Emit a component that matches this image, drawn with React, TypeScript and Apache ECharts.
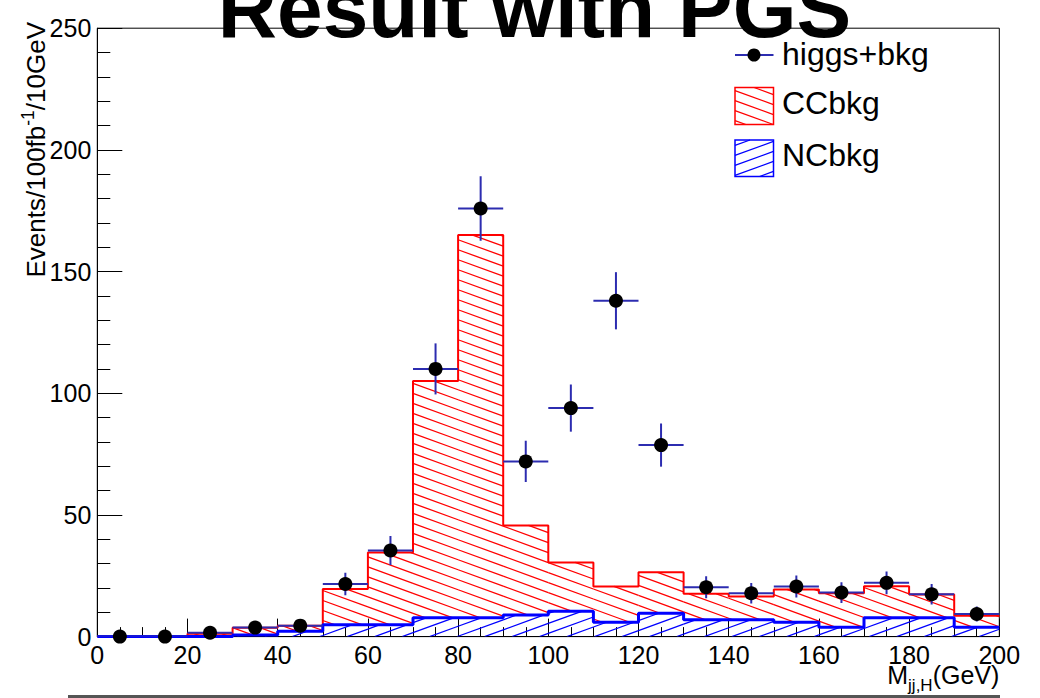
import React, { useEffect, useRef } from "react";
import * as echarts from "echarts";

// ---------- data ----------
const binLow = [0, 10, 20, 30, 40, 50, 60, 70, 80, 90, 100, 110, 120, 130, 140, 150, 160, 170, 180, 190];
const binWidth = 10;
// higgs + background (points, errors = sqrt(N))
const higgsBkg = [0, 0, 1.6, 3.7, 4.5, 21.6, 35.4, 110, 175.9, 72, 93.9, 138, 78.7, 20.3, 17.8, 20.6, 18.1, 22.1, 17.4, 9.3];
// CC background stacked on top of NC background (top of red histogram)
const ccStack = [0, 0, 1.2, 3.6, 4.5, 19.6, 34.6, 105, 165, 45.7, 30.5, 20.6, 26.4, 17.6, 16.5, 19.4, 17.8, 20.7, 17.3, 8.6];
// NC background
const ncBkg = [0, 0, 0, 0.7, 2.2, 4.9, 4.9, 7.7, 7.7, 8.9, 10.4, 5.9, 9.6, 6.9, 6.9, 5.9, 3.8, 7.7, 7.7, 3.8];

const xTicks = { min: 0, max: 200, interval: 20 };
const yTicks = { min: 0, max: 250, interval: 50 };

const FONT = '"Liberation Sans", Arial, Helvetica, sans-serif';
const RED = "#ff0000";
const BLUE = "#0000ff";
const ERR = "#2c2cb0";
const HATCH_SLOPE = 0.364;
const HATCH_SPACING = 10;

type Seg = { x1: number; y1: number; x2: number; y2: number };

function hatch(x0: number, y0: number, x1: number, y1: number, slope: number, spacing: number, phase: number): Seg[] {
  const segs: Seg[] = [];
  if (x1 - x0 < 0.5 || y1 - y0 < 0.5) return segs;
  const cs = [y0 - slope * x0, y0 - slope * x1, y1 - slope * x0, y1 - slope * x1];
  const cMin = Math.min(...cs), cMax = Math.max(...cs);
  const kStart = Math.ceil((cMin - phase) / spacing);
  const kEnd = Math.floor((cMax - phase) / spacing);
  for (let k = kStart; k <= kEnd; k++) {
    const c = phase + k * spacing;
    let xa = (y0 - c) / slope, xb = (y1 - c) / slope;
    if (xa > xb) { const t = xa; xa = xb; xb = t; }
    const lo = Math.max(x0, xa), hi = Math.min(x1, xb);
    if (hi - lo > 0.2) segs.push({ x1: lo, y1: slope * lo + c, x2: hi, y2: slope * hi + c });
  }
  return segs;
}

let measureCtx: CanvasRenderingContext2D | null = null;
function tw(text: string, size: number, weight = "normal"): number {
  if (!measureCtx) measureCtx = document.createElement("canvas").getContext("2d");
  measureCtx!.font = `${weight} ${size}px "Liberation Sans"`;
  return measureCtx!.measureText(text).width;
}

function hatchRenderer(color: string, slope: number) {
  return (params: any, api: any) => {
    const xl = api.value(0), xr = api.value(1), b = api.value(2), t = api.value(3);
    if (!(t > b)) return { type: "group", children: [] };
    const p0 = api.coord([xl, b]);
    const p1 = api.coord([xr, t]);
    const segs = hatch(p0[0], p1[1], p1[0], p0[1], slope, HATCH_SPACING, 3);
    return {
      type: "group",
      children: segs.map((s) => ({
        type: "line",
        shape: s,
        style: { stroke: color, lineWidth: 1.3 },
      })),
    };
  };
}

function errRenderer(params: any, api: any) {
  const xc = api.value(0), v = api.value(1), e = api.value(2), hw = api.value(3);
  const pl = api.coord([xc - hw, v]);
  const pr = api.coord([xc + hw, v]);
  const pt = api.coord([xc, v + e]);
  const pb = api.coord([xc, v - e]);
  const style = { stroke: ERR, lineWidth: 2 };
  return {
    type: "group",
    children: [
      { type: "line", shape: { x1: pl[0], y1: pl[1], x2: pr[0], y2: pr[1] }, style },
      { type: "line", shape: { x1: pt[0], y1: pt[1], x2: pb[0], y2: pb[1] }, style },
    ],
  };
}

function stepData(vals: number[]) {
  const d = binLow.map((x, i) => [x, vals[i]]);
  d.push([binLow[binLow.length - 1] + binWidth, vals[vals.length - 1]]);
  return d;
}

export default function App() {
  const ref = useRef<HTMLDivElement>(null);

  useEffect(() => {
    if (!ref.current) return;
    const chart = echarts.init(ref.current, null, { renderer: "svg" });

    const gridLeft = 97.3, gridRight = 999.3, gridTop = 28.2, gridBottom = 636.6;

    // y-axis title (rotated, right-aligned at top)
    const yfs = 26, ysfs = 17.5;
    const yp1 = "Events/100fb", yp2 = "-1", yp3 = "/10GeV";
    const w1 = tw(yp1, yfs), w2 = tw(yp2, ysfs), w3 = tw(yp3, yfs);
    const yL = w1 + w2 + w3;
    const yBase = 45;
    const yTitle = {
      type: "group",
      x: yBase,
      y: 22 + yL,
      rotation: Math.PI / 2,
      children: [
        { type: "text", x: 0, y: -0.3465 * yfs, style: { text: yp1, font: `${yfs}px ${FONT}`, fill: "#000", align: "left", verticalAlign: "middle" } },
        { type: "text", x: w1, y: -0.42 * yfs - 0.3465 * ysfs, style: { text: yp2, font: `${ysfs}px ${FONT}`, fill: "#000", align: "left", verticalAlign: "middle" } },
        { type: "text", x: w1 + w2, y: -0.3465 * yfs, style: { text: yp3, font: `${yfs}px ${FONT}`, fill: "#000", align: "left", verticalAlign: "middle" } },
      ],
    };

    // x-axis title
    const xfs = 25, xsfs = 17;
    const xp1 = "M", xp2 = "jj,H", xp3 = "(GeV)";
    const xw1 = tw(xp1, xfs), xw2 = tw(xp2, xsfs), xw3 = tw(xp3, xfs);
    const xStart = gridRight - (xw1 + xw2 + xw3);
    const xBaseY = 684;
    const xTitle = [
      { type: "text", x: xStart, y: xBaseY - 0.3465 * xfs, style: { text: xp1, font: `${xfs}px ${FONT}`, fill: "#000", align: "left", verticalAlign: "middle" } },
      { type: "text", x: xStart + xw1, y: xBaseY + 0.28 * xfs - 0.3465 * xsfs, style: { text: xp2, font: `${xsfs}px ${FONT}`, fill: "#000", align: "left", verticalAlign: "middle" } },
      { type: "text", x: xStart + xw1 + xw2, y: xBaseY - 0.3465 * xfs, style: { text: xp3, font: `${xfs}px ${FONT}`, fill: "#000", align: "left", verticalAlign: "middle" } },
    ];

    // legend
    const lx0 = 735, lx1 = 773.5;
    const legendFs = 32;
    const redBox = { y0: 87.5, y1: 124.5 };
    const blueBox = { y0: 140, y1: 176.5 };
    const legend: any[] = [
      { type: "line", shape: { x1: lx0, y1: 55, x2: lx1, y2: 55 }, style: { stroke: ERR, lineWidth: 2 } },
      { type: "circle", shape: { cx: 754, cy: 55, r: 6.5 }, style: { fill: "#000" } },
      { type: "text", x: 782, y: 65 - 0.3465 * legendFs, style: { text: "higgs+bkg", font: `${legendFs}px ${FONT}`, fill: "#000", verticalAlign: "middle" } },
      ...hatch(lx0, redBox.y0, lx1, redBox.y1, HATCH_SLOPE, HATCH_SPACING, 3).map((s) => ({ type: "line", shape: s, style: { stroke: RED, lineWidth: 1.3 } })),
      { type: "rect", shape: { x: lx0, y: redBox.y0, width: lx1 - lx0, height: redBox.y1 - redBox.y0 }, style: { fill: "none", stroke: RED, lineWidth: 1.5 } },
      { type: "text", x: 782, y: 114.5 - 0.3465 * legendFs, style: { text: "CCbkg", font: `${legendFs}px ${FONT}`, fill: "#000", verticalAlign: "middle" } },
      ...hatch(lx0, blueBox.y0, lx1, blueBox.y1, -HATCH_SLOPE, HATCH_SPACING, 3).map((s) => ({ type: "line", shape: s, style: { stroke: BLUE, lineWidth: 1.3 } })),
      { type: "rect", shape: { x: lx0, y: blueBox.y0, width: lx1 - lx0, height: blueBox.y1 - blueBox.y0 }, style: { fill: "none", stroke: BLUE, lineWidth: 1.5 } },
      { type: "text", x: 782, y: 166.5 - 0.3465 * legendFs, style: { text: "NCbkg", font: `${legendFs}px ${FONT}`, fill: "#000", verticalAlign: "middle" } },
    ];

    const titleFs = 82;
    const title = {
      type: "text",
      x: 534.5,
      y: 37 - 0.3465 * titleFs,
      z: 100,
      style: { text: "Result with PGS", font: `bold ${titleFs}px ${FONT}`, fill: "#000", align: "center", verticalAlign: "middle" },
    };

    const option: any = {
      animation: false,
      backgroundColor: "#ffffff",
      grid: {
        left: gridLeft,
        right: 1040 - gridRight,
        top: gridTop,
        bottom: 698 - gridBottom,
        show: true,
        borderColor: "#000",
        borderWidth: 1,
        backgroundColor: "#fff",
      },
      xAxis: {
        type: "value",
        min: xTicks.min,
        max: xTicks.max,
        interval: xTicks.interval,
        axisLine: { show: true, onZero: false, lineStyle: { color: "#000", width: 1 } },
        axisTick: { show: true, inside: true, length: 18, lineStyle: { color: "#000", width: 1 } },
        minorTick: { show: true, splitNumber: 4, length: 9.5, lineStyle: { color: "#000", width: 1 } },
        splitLine: { show: false },
        axisLabel: { color: "#000", fontSize: 25, fontFamily: FONT, margin: 6, showMinLabel: true, showMaxLabel: true },
      },
      yAxis: {
        type: "value",
        min: yTicks.min,
        max: yTicks.max,
        interval: yTicks.interval,
        axisLine: { show: true, lineStyle: { color: "#000", width: 1 } },
        axisTick: { show: true, inside: true, length: 25, lineStyle: { color: "#000", width: 1 } },
        minorTick: { show: true, splitNumber: 5, length: 13, lineStyle: { color: "#000", width: 1 } },
        splitLine: { show: false },
        axisLabel: { color: "#000", fontSize: 25, fontFamily: FONT, margin: 6, showMinLabel: true, showMaxLabel: true },
      },
      series: [
        {
          type: "custom",
          name: "CCbkg hatch",
          silent: true,
          z: 1,
          renderItem: hatchRenderer(RED, HATCH_SLOPE),
          encode: { x: [0, 1], y: [2, 3] },
          data: binLow.map((x, i) => [x, x + binWidth, ncBkg[i], ccStack[i]]),
          clip: true,
        },
        {
          type: "custom",
          name: "NCbkg hatch",
          silent: true,
          z: 2,
          renderItem: hatchRenderer(BLUE, -HATCH_SLOPE),
          encode: { x: [0, 1], y: [2, 3] },
          data: binLow.map((x, i) => [x, x + binWidth, 0, ncBkg[i]]),
          clip: true,
        },
        {
          type: "line",
          name: "CCbkg",
          step: "end",
          z: 3,
          symbol: "none",
          silent: true,
          lineStyle: { color: RED, width: 2 },
          data: stepData(ccStack),
        },
        {
          type: "line",
          name: "NCbkg",
          step: "end",
          z: 4,
          symbol: "none",
          silent: true,
          lineStyle: { color: BLUE, width: 3 },
          data: stepData(ncBkg),
        },
        {
          type: "custom",
          name: "errors",
          silent: true,
          z: 5,
          renderItem: errRenderer,
          encode: { x: 0, y: 1 },
          data: binLow.map((x, i) => [x + binWidth / 2, higgsBkg[i], Math.sqrt(higgsBkg[i]), binWidth / 2]),
          clip: true,
        },
        {
          type: "scatter",
          name: "higgs+bkg",
          z: 6,
          silent: true,
          symbol: "circle",
          symbolSize: 14,
          itemStyle: { color: "#000", opacity: 1 },
          data: binLow.map((x, i) => [x + binWidth / 2, higgsBkg[i]]),
          clip: false,
        },
      ],
      graphic: [
        yTitle,
        ...xTitle,
        ...legend,
        title,
        { type: "rect", shape: { x: 68, y: 695, width: 932, height: 3 }, style: { fill: "#555" } },
      ],
    };

    chart.setOption(option);
    return () => chart.dispose();
  }, []);

  return (
    <div
      ref={ref}
      style={{ position: "absolute", left: 0, top: 0, width: 1040, height: 698, background: "#fff" }}
    />
  );
}
